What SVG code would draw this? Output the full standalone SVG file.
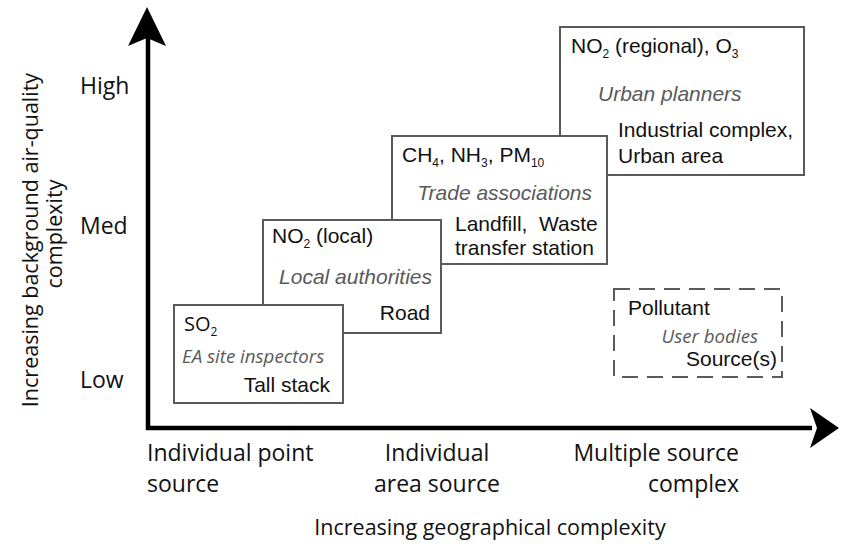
<svg xmlns="http://www.w3.org/2000/svg" width="841" height="549" viewBox="0 0 841 549">
<style>
.box{fill:#fff;stroke:#5a5a5a;stroke-width:2}
.dash{fill:none;stroke:#5a5a5a;stroke-width:2;stroke-dasharray:16 9}
.m{font-family:"Open Sans","Noto Sans",sans-serif;fill:#111}
.a{font-family:"Liberation Sans",Arial,sans-serif;fill:#111}
.ax{font-size:23px}
.t{font-size:21px}
.pi{font-family:"Liberation Sans",Arial,sans-serif;font-style:italic;fill:#5a5a5a;font-size:21px}
.mi{font-family:"Open Sans","Noto Sans",sans-serif;font-style:italic;fill:#5a5a5a;font-size:18.7px}
.sub{font-size:12px}
.axis{stroke:#000;stroke-width:4.5;fill:none}
</style>
<g id="axes">
<line class="axis" x1="148" y1="430" x2="148" y2="36"/>
<line class="axis" x1="146" y1="428" x2="812" y2="428"/>
<path d="M147 7 L166 46 L147 38 L128 46 Z" fill="#000"/>
<path d="M839 428 L810 408 L817 428 L810 448 Z" fill="#000"/>
</g>
<g id="y-labels" class="m ax">
<text x="80" y="94">High</text>
<text x="80" y="234">Med</text>
<text x="80" y="388">Low</text>
<text transform="translate(38,240) rotate(-90)" text-anchor="middle" font-size="21.5">Increasing background air-quality</text>
<text transform="translate(62,234) rotate(-90)" text-anchor="middle" font-size="21.5">complexity</text>
</g>
<g id="x-labels" class="m ax">
<text x="147" y="461">Individual point</text>
<text x="147" y="492">source</text>
<text x="437" y="461" text-anchor="middle">Individual</text>
<text x="437" y="492" text-anchor="middle">area source</text>
<text x="739" y="461" text-anchor="end">Multiple source</text>
<text x="739" y="492" text-anchor="end">complex</text>
<text x="490" y="535" text-anchor="middle" font-size="21.5">Increasing geographical complexity</text>
</g>
<g id="box-urban">
<rect class="box" x="560" y="27" width="244" height="148"/>
<text class="a t" x="571" y="53">NO<tspan class="sub" dy="5">2</tspan><tspan dy="-5"> (regional), O</tspan><tspan class="sub" dy="5">3</tspan></text>
<text class="pi" x="598" y="101">Urban planners</text>
<text class="a t" x="618" y="137">Industrial complex,</text>
<text class="a t" x="618" y="163">Urban area</text>
</g>
<g id="box-landfill">
<rect class="box" x="392" y="136" width="215" height="128"/>
<text class="a t" x="402" y="162">CH<tspan class="sub" dy="5">4</tspan><tspan dy="-5">, NH</tspan><tspan class="sub" dy="5">3</tspan><tspan dy="-5">, PM</tspan><tspan class="sub" dy="5">10</tspan></text>
<text class="pi" x="592" y="200" text-anchor="end">Trade associations</text>
<text class="a t" x="455" y="231">Landfill,&#160; Waste</text>
<text class="a t" x="455" y="255">transfer station</text>
</g>
<g id="box-road">
<rect class="box" x="263" y="220" width="178" height="113"/>
<text class="a t" x="272" y="243">NO<tspan class="sub" dy="5">2</tspan><tspan dy="-5"> (local)</tspan></text>
<text class="pi" x="432" y="284" text-anchor="end">Local authorities</text>
<text class="a t" x="430" y="320" text-anchor="end">Road</text>
</g>
<g id="box-stack">
<rect class="box" x="174" y="305" width="169" height="98"/>
<text class="m" x="184" y="331" font-size="20">SO<tspan class="sub" dy="5">2</tspan></text>
<text class="mi" x="182" y="363">EA site inspectors</text>
<text class="a t" x="330" y="392" text-anchor="end">Tall stack</text>
</g>
<g id="legend">
<rect class="dash" x="614" y="289" width="168" height="88"/>
<text class="a t" x="628" y="315">Pollutant</text>
<text class="mi" x="758" y="343" text-anchor="end">User bodies</text>
<text class="a t" x="777" y="366" text-anchor="end">Source(s)</text>
</g>
</svg>
